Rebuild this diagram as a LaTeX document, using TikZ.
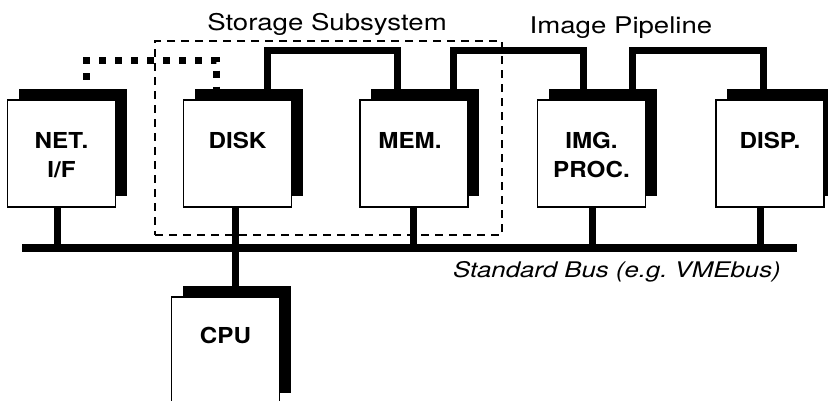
\documentclass[tikz,border=0pt]{standalone}
\usepackage{fontspec}
\setmainfont{TeX Gyre Heros}
\newfontfamily\widefont[FakeStretch=1.2]{TeX Gyre Heros}
\newfontfamily\cardfont[FakeStretch=1.1]{TeX Gyre Heros}
\usetikzlibrary{positioning,shadows,backgrounds}

\tikzset{
  board/.style={draw, line width=1.6pt, fill=white, inner sep=0pt,
    minimum width=108pt, minimum height=107pt,
    drop shadow={shadow xshift=11pt, shadow yshift=11pt, fill=black, opacity=1}},
  boardtext/.style={font=\cardfont\bfseries\fontsize{22}{29}\selectfont, align=center, inner sep=0pt},
  title/.style={font=\widefont\fontsize{23}{27}\selectfont, anchor=base, inner sep=0pt},
  wire/.style={line width=7pt},
  netwire/.style={line width=7pt, dash pattern=on 7pt off 9pt, dash phase=12.5pt},
  subsys/.style={draw, line width=1.2pt, dash pattern=on 8pt off 6pt, inner sep=0pt,
    minimum width=347pt, minimum height=194pt},
}

\begin{document}
\begin{tikzpicture}[x=1pt, y=-1pt]
    \useasboundingbox (0,0) rectangle (828,400);
    \clip (0,0) rectangle (828,400);

    % boards on the bus
    \node[board] (net)  at (61.5,153.5) {};
    \node[board] (disk) at (237.5,153.5) {};
    \node[board] (mem)  at (414,153.5) {};
    \node[board] (img)  at (591.5,153.5) {};
    \node[board] (disp) at (770,153.5) {};
    \node[board] (cpu)  at (225.5,350.5) {};

    \node[boardtext, below=33pt of net.north]  (net-t)  {NET.\\I/F};
    \node[boardtext, below=33pt of disk.north] (disk-t) {DISK};
    \node[boardtext, below=33pt of mem.north, xshift=-4pt] (mem-t) {MEM.};
    \node[boardtext, below=33pt of img.north]  (img-t)  {IMG.\\PROC.};
    \node[boardtext, below=33pt of disp.north] (disp-t) {DISP.};
    \node[boardtext, below=31pt of cpu.north]  (cpu-t)  {CPU};

    % storage subsystem outline
    \node[subsys] (storage) at (328.5,138) {};

    % titles
    \node[title] (storage-lbl) at (327,30) {Storage Subsystem};
    \node[title] (pipe-lbl)    at (621,33) {Image Pipeline};
    \node[title, font=\widefont\itshape\fontsize{21.5}{26}\selectfont] (bus-lbl) at (617,277) {Standard Bus (e.g.\ VMEbus)};

    % bus and connectors
    \coordinate (busW) at (22,248);
    \coordinate (busE) at (797,248);

    \begin{scope}[on background layer]
        \draw[line width=8pt] (busW) -- (busE);

        % stubs down to the bus
        \draw[wire] ([xshift=-4.5pt]net.south) -- ([xshift=-4.5pt]net.south |- busW);
        \draw[wire] ([xshift=-2pt]disk.south) -- ([xshift=-2pt]disk.south |- busW);
        \draw[wire] ([xshift=-1pt]mem.south) -- ([xshift=-1pt]mem.south |- busW);
        \draw[wire] ([xshift=1pt]img.south) -- ([xshift=1pt]img.south |- busW);
        \draw[wire] ([xshift=-10pt]disp.south) -- ([xshift=-10pt]disp.south |- busW);
        \draw[wire] ([xshift=9.5pt]cpu.north) -- ([xshift=9.5pt]cpu.north |- busW);

        % pipeline links over the top
        \draw[wire] ([xshift=29.5pt]disk.north) -- ++(0,-48.5) -| ([xshift=-17pt]mem.north);
        \draw[wire] ([xshift=39pt]mem.north) -- ++(0,-48.5) -| ([xshift=-8.5pt]img.north);
        \draw[wire] ([xshift=40.5pt]img.north) -- ++(0,-48.5) -| ([xshift=-7pt]disp.north);

        % network link to the disk
        \draw[netwire] ([xshift=25pt]net.north) -- ++(0,-39) -| ([xshift=-21pt]disk.north);
    \end{scope}
\end{tikzpicture}
\end{document}
